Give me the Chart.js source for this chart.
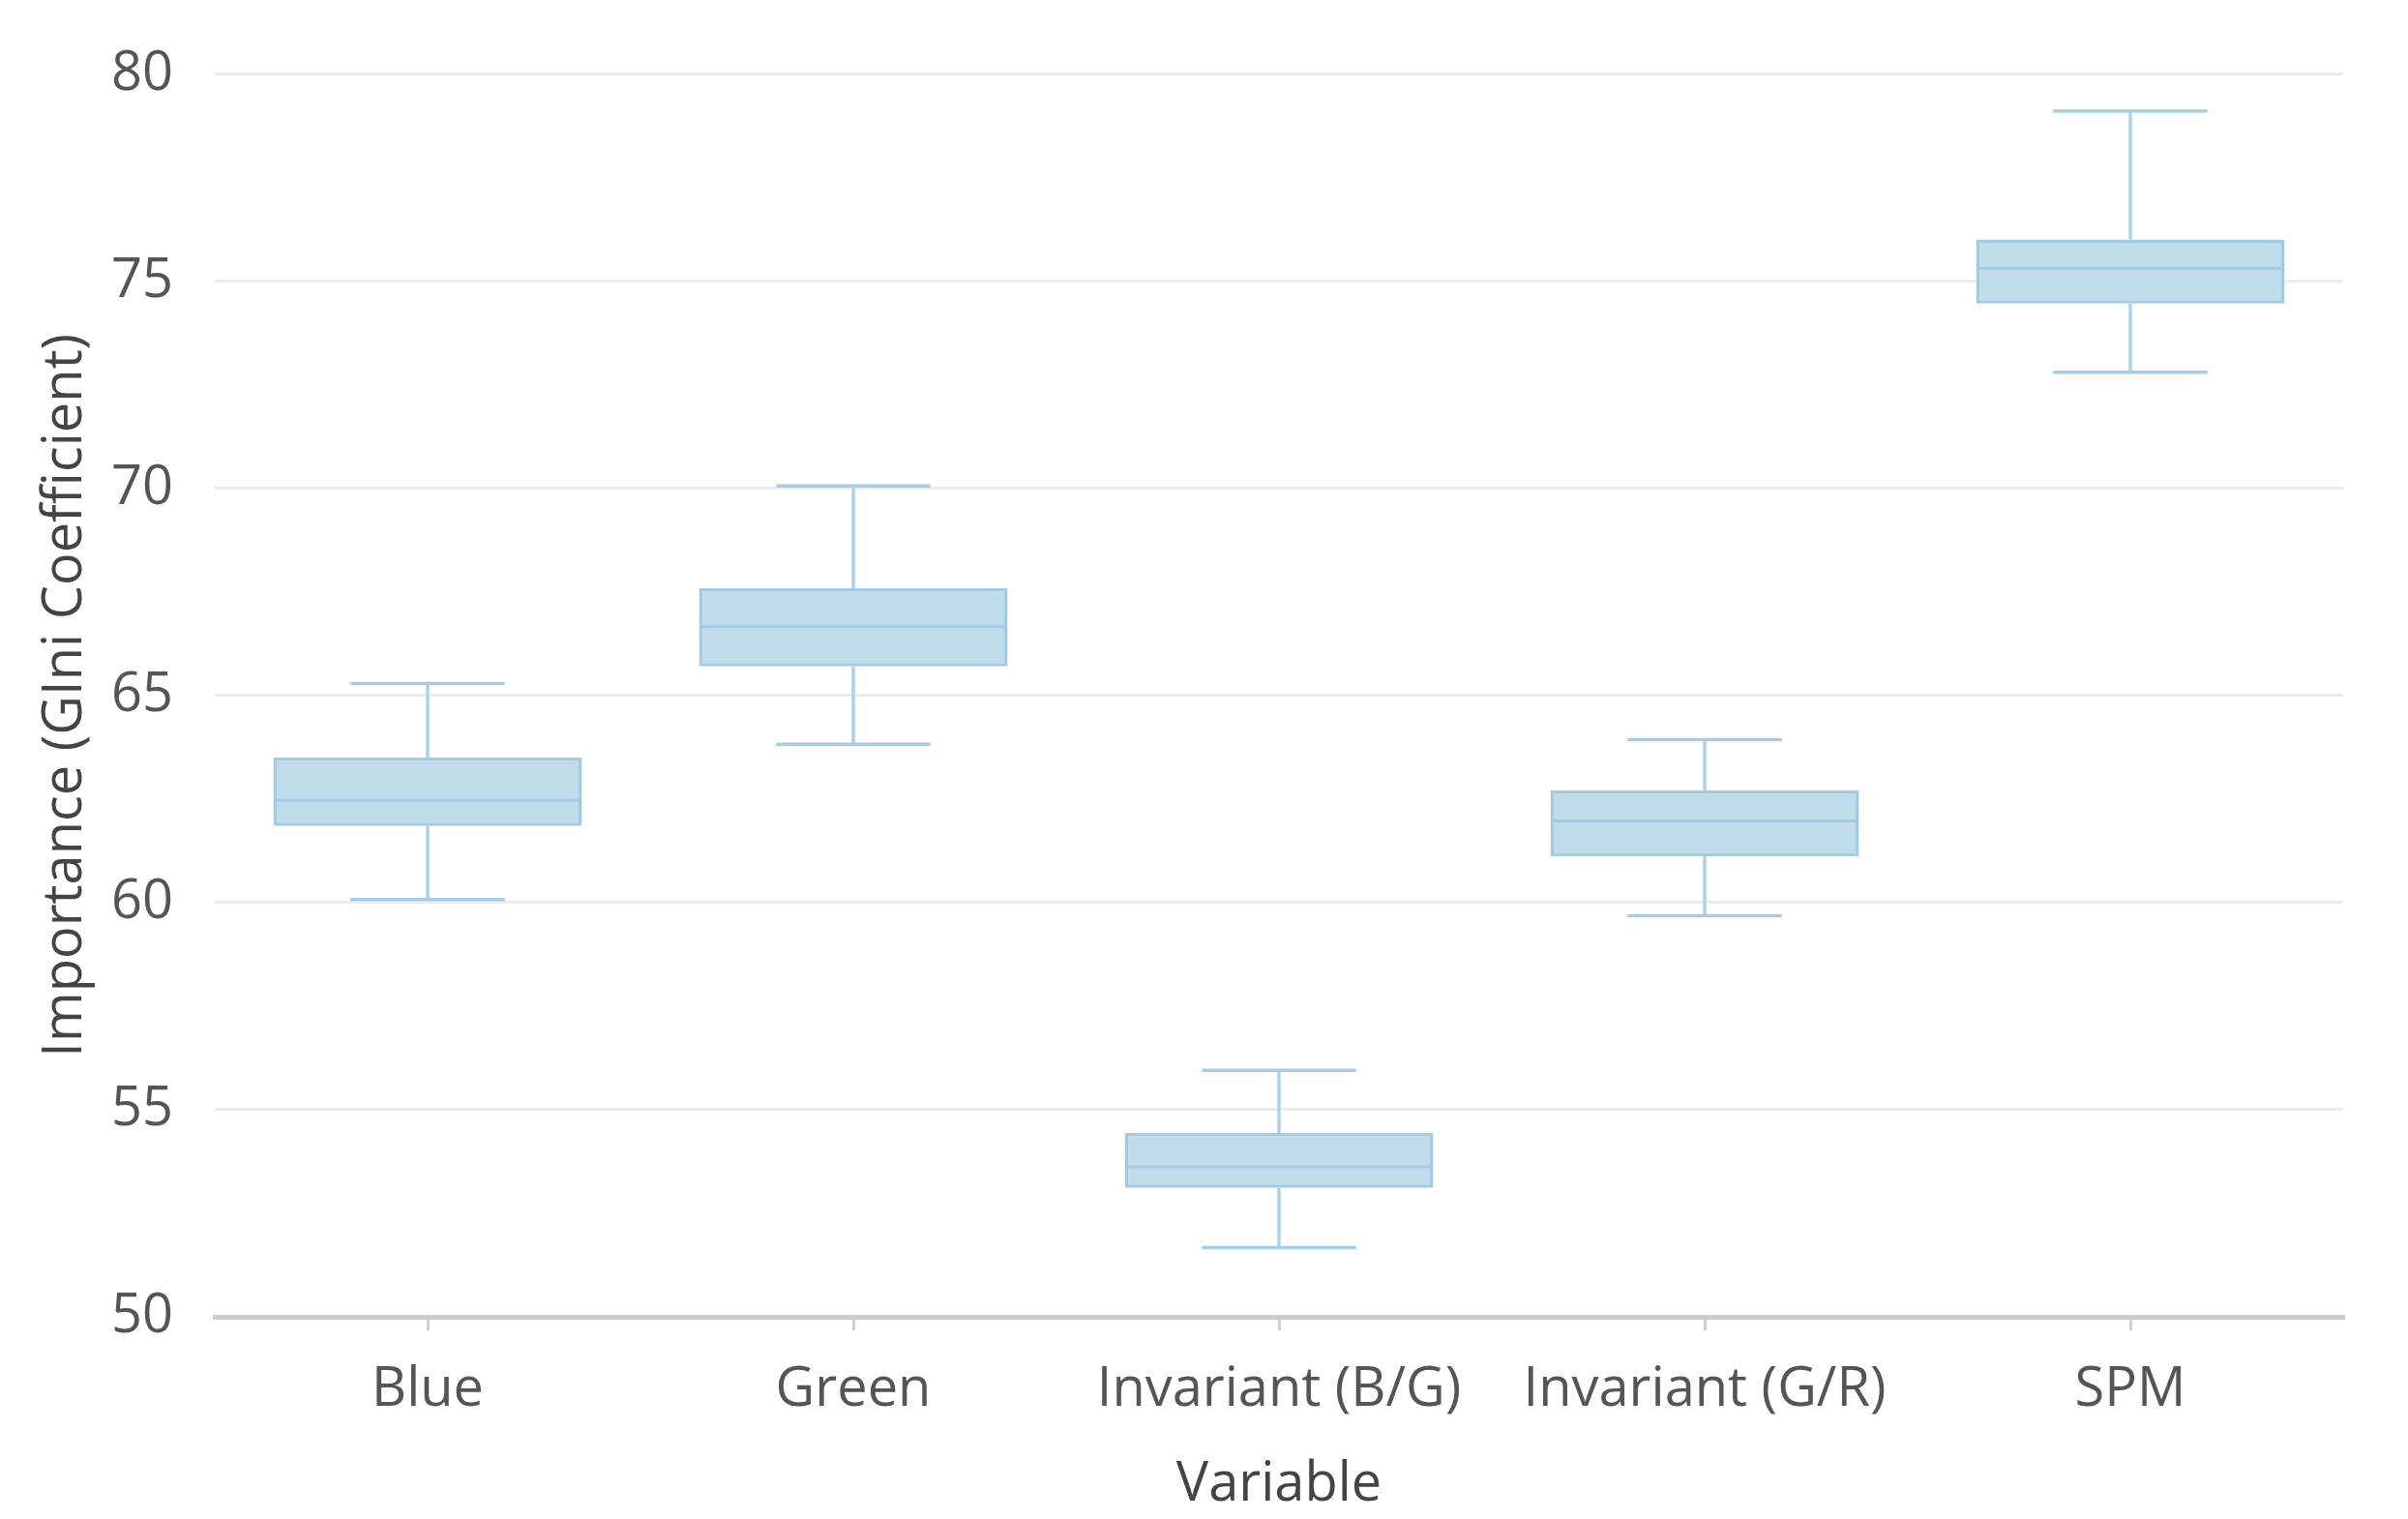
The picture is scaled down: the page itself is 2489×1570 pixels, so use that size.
<!DOCTYPE html>
<html>
<head>
<meta charset="utf-8">
<script src="https://cdn.jsdelivr.net/npm/chart.js@4/dist/chart.umd.min.js"></script>
<style>
  html, body { margin: 0; padding: 0; background: #ffffff; }
  #wrap { width: 2489px; height: 1570px; }
</style>
</head>
<body>
<div id="wrap"><canvas id="c" width="2489" height="1570"></canvas></div>
<script>
const categories = ['Blue', 'Green', 'Invariant (B/G)', 'Invariant (G/R)', 'SPM'];
const minValues    = [60.07, 63.82, 51.67, 59.68, 72.80];
const q1Values     = [61.85, 65.70, 53.11, 61.12, 74.46];
const medianValues = [62.47, 66.66, 53.62, 61.97, 75.31];
const q3Values     = [63.50, 67.59, 54.44, 62.71, 76.01];
const maxValues    = [65.29, 70.06, 55.95, 63.93, 79.11];
const yTickValues  = [50, 55, 60, 65, 70, 75, 80];
const xTitle = 'Variable';
const yTitle = 'Importance (GIni Coefficient)';

const FONT = "'Open Sans', 'Noto Sans', sans-serif";
const boxFill = 'rgba(193, 220, 234, 1)';
const boxBorder = '#a3cbe2';
const whiskerColor = '#aed2e7';
const capColor = '#a6cde3';

const whiskerPlugin = {
  id: 'whiskers',
  afterDatasetsDraw(chart) {
    const ctx = chart.ctx;
    const xs = chart.scales.x, ys = chart.scales.y;
    const meta = chart.getDatasetMeta(0);
    ctx.save();
    categories.forEach((c, i) => {
      const bar = meta.data[i];
      const x = xs.getPixelForValue(i);
      const w = bar.width;
      const yMin = ys.getPixelForValue(minValues[i]);
      const yQ1 = ys.getPixelForValue(q1Values[i]);
      const yMed = ys.getPixelForValue(medianValues[i]);
      const yQ3 = ys.getPixelForValue(q3Values[i]);
      const yMax = ys.getPixelForValue(maxValues[i]);
      ctx.strokeStyle = whiskerColor;
      ctx.lineWidth = 3.5;
      ctx.beginPath();
      ctx.moveTo(x, yQ3); ctx.lineTo(x, yMax);
      ctx.moveTo(x, yQ1); ctx.lineTo(x, yMin);
      ctx.stroke();
      ctx.strokeStyle = capColor;
      ctx.lineWidth = 3.5;
      ctx.beginPath();
      ctx.moveTo(x - w / 4, yMax); ctx.lineTo(x + w / 4, yMax);
      ctx.moveTo(x - w / 4, yMin); ctx.lineTo(x + w / 4, yMin);
      ctx.stroke();
      ctx.strokeStyle = boxBorder;
      ctx.lineWidth = 3;
      ctx.beginPath();
      ctx.moveTo(x - w / 2 + 2, yMed); ctx.lineTo(x + w / 2 - 2, yMed);
      ctx.stroke();
    });
    ctx.restore();
  }
};

new Chart(document.getElementById('c'), {
  type: 'bar',
  data: {
    labels: categories,
    datasets: [{
      data: q1Values.map((q, i) => [q, q3Values[i]]),
      backgroundColor: boxFill,
      borderColor: boxBorder,
      borderWidth: 3.5,
      borderSkipped: false,
      barPercentage: 0.725,
      categoryPercentage: 1.0
    }]
  },
  options: {
    responsive: false,
    devicePixelRatio: 1,
    animation: false,
    layout: { padding: { left: 34, right: 67, top: 73, bottom: 0 } },
    plugins: { legend: { display: false }, tooltip: { enabled: false } },
    scales: {
      x: {
        type: 'category',
        offset: true,
        grid: { display: true, drawOnChartArea: false, drawTicks: true, tickLength: 14, color: '#cfcfcf', lineWidth: 3, offset: false },
        border: { display: true, color: '#cccccc', width: 5 },
        ticks: { color: '#555555', font: { family: FONT, size: 56 }, padding: 28 },
        title: { display: true, text: xTitle, color: '#444444', font: { family: FONT, size: 56 }, padding: { top: 0, bottom: 1 } },
        afterFit(scale) { scale.height = 1570 - 1361; }
      },
      y: {
        min: 50, max: 80,
        afterBuildTicks(scale) { scale.ticks = yTickValues.map(v => ({ value: v })); },
        grid: { color: '#ececec', lineWidth: 3, drawTicks: false },
        border: { display: false },
        ticks: { color: '#555555', font: { family: FONT, size: 56 }, padding: 43 },
        title: { display: true, text: yTitle, color: '#444444', font: { family: FONT, size: 56 }, padding: { top: 0, bottom: 0 } },
        afterFit(scale) { scale.width = 222 - 34; }
      }
    }
  },
  plugins: [whiskerPlugin]
});
</script>
</body>
</html>
